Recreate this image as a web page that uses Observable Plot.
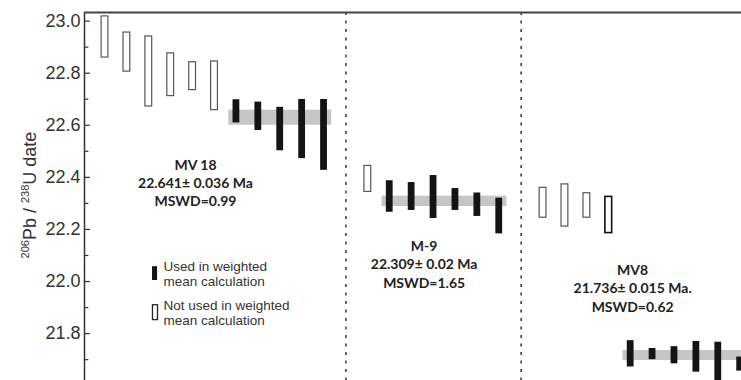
<!DOCTYPE html>
<html>
<head>
<meta charset="utf-8">
<script src="https://cdn.jsdelivr.net/npm/d3@7"></script>
<script src="https://cdn.jsdelivr.net/npm/@observablehq/plot@0.6"></script>
<style>
  html, body { margin: 0; padding: 0; background: #ffffff; }
  #chart svg { display: block; }
</style>
</head>
<body>
<div id="chart"></div>
<script>
// ---------- data ----------
const samples   = ["MV 18", "M-9", "MV8"];
const ageText   = ["22.641\u00b1 0.036 Ma", "22.309\u00b1 0.02 Ma", "21.736\u00b1 0.015 Ma."];
const mswdText  = ["MSWD=0.99", "MSWD=1.65", "MSWD=0.62"];
const bandLow   = [22.600, 22.288, 21.697];
const bandHigh  = [22.658, 22.328, 21.735];

// analysis slot (along the x axis), sample, age interval (2σ) and whether used
const slot      = [0, 1, 2, 3, 4, 5, 6, 7, 8, 9, 10,
                   12, 13, 14, 15, 16, 17, 18,
                   20, 21, 22, 23, 24, 25, 26, 27, 28, 29];
const sampleOf  = [0, 0, 0, 0, 0, 0, 0, 0, 0, 0, 0,
                   1, 1, 1, 1, 1, 1, 1,
                   2, 2, 2, 2, 2, 2, 2, 2, 2, 2];
const ageHigh   = [23.018, 22.956, 22.941, 22.876, 22.842, 22.845, 22.698, 22.689, 22.669, 22.699, 22.699,
                   22.444, 22.387, 22.380, 22.407, 22.357, 22.340, 22.320,
                   22.360, 22.373, 22.339, 22.325, 21.773, 21.743, 21.750, 21.770, 21.767, 21.710];
const ageLow    = [22.860, 22.806, 22.672, 22.712, 22.735, 22.658, 22.609, 22.580, 22.502, 22.472, 22.427,
                   22.344, 22.266, 22.273, 22.242, 22.273, 22.250, 22.183,
                   22.245, 22.211, 22.245, 22.186, 21.672, 21.700, 21.684, 21.652, 21.580, 21.656];
const used      = [false, false, false, false, false, false, true, true, true, true, true,
                   false, true, true, true, true, true, true,
                   false, false, false, false, true, true, true, true, true, true];
const dividers  = [11, 19];
const majorTicks = [21.8, 22.0, 22.2, 22.4, 22.6, 22.8, 23.0];
const minorTicks = [21.7, 21.9, 22.1, 22.3, 22.5, 22.7, 22.9];
const legendLabels = ["Used in weighted\nmean calculation", "Not used in weighted\nmean calculation"];

// ---------- derived tables ----------
const analyses = slot.map((s, i) => ({
  pos: s, sample: sampleOf[i], hi: ageHigh[i], lo: ageLow[i], used: used[i],
  last: i === 21
}));
const bands = samples.map((name, k) => {
  const u = analyses.filter(a => a.sample === k && a.used).map(a => a.pos);
  return {name, lo: bandLow[k], hi: bandHigh[k], x1: d3.min(u) - 0.35, x2: d3.max(u) + 0.35};
});
const labels = samples.map((name, k) => ({text: `${name}\n${ageText[k]}\n${mswdText[k]}`, k}));
const labelAnchor = [[4.13, 22.381], [14.57, 22.069], [24.09, 21.977]];

const xDomain = [-0.936, 29.06];
const yDomain = [21.62, 23.033];
const hw = 0.155; // half width of a bar in slot units

const chart = Plot.plot({
  width: 741,
  height: 380,
  marginLeft: 84,
  marginRight: 0,
  marginTop: 12,
  marginBottom: 0,
  style: {background: "#ffffff", overflow: "visible"},
  x: {domain: xDomain, axis: null},
  y: {domain: yDomain, axis: null},
  marks: [
    // weighted mean bands
    Plot.rect(bands, {x1: "x1", x2: "x2", y1: "lo", y2: "hi", fill: "#c6c6c6", clip: true}),
    // analyses
    Plot.rect(analyses.filter(d => !d.used), {
      x1: d => d.pos - hw, x2: d => d.pos + hw, y1: "lo", y2: "hi",
      fill: "#ffffff", stroke: d => d.last ? "#111111" : "#555555",
      strokeWidth: d => d.last ? 1.6 : 1.2, clip: true
    }),
    Plot.rect(analyses.filter(d => d.used), {
      x1: d => d.pos - hw, x2: d => d.pos + hw, y1: "lo", y2: "hi",
      fill: "#141414", clip: true
    }),
    // sample dividers
    Plot.ruleX(dividers, {x: d => d, stroke: "#333", strokeWidth: 1.5, strokeDasharray: "3,5.5"}),
    // frame: left axis + top line
    Plot.ruleX([xDomain[0]], {x: d => d, stroke: "#333", strokeWidth: 1.5}),
    Plot.ruleY([yDomain[1]], {y: d => d, stroke: "#444", strokeWidth: 2}),
    // inward ticks
    Plot.ruleY(majorTicks, {y: d => d, x1: xDomain[0], x2: xDomain[0] + 0.27, stroke: "#333", strokeWidth: 1.2}),
    Plot.ruleY(minorTicks, {y: d => d, x1: xDomain[0], x2: xDomain[0] + 0.2, stroke: "#333", strokeWidth: 1.2}),
    // tick labels
    Plot.axisY(majorTicks, {anchor: "left", tickSize: 0, tickPadding: 4, tickFormat: d3.format(".1f"),
      fontSize: 18, fill: "#333"}),
    // sample annotations
    Plot.text(labels, {
      x: d => labelAnchor[d.k][0], y: d => labelAnchor[d.k][1], text: "text",
      lineHeight: 1.3, fontSize: 14, fontWeight: "bold", fill: "#222",
      fontFamily: "Lato, 'Open Sans', sans-serif"
    }),
    // legend
    Plot.rect([0], {x1: 2.17, x2: 2.40, y1: 22.004, y2: 22.057, fill: "#141414"}),
    Plot.rect([0], {x1: 2.19, x2: 2.42, y1: 21.852, y2: 21.909, fill: "#fff", stroke: "#222", strokeWidth: 1.3}),
    Plot.text(legendLabels, {
      x: () => 2.67, y: (d, i) => [22.031, 21.881][i], text: d => d,
      textAnchor: "start", fontSize: 13.5, lineHeight: 1.12, fill: "#333",
      fontFamily: "'Liberation Sans', Arial, sans-serif"
    })
  ]
});

chart.setAttribute("font-family", "'Liberation Sans', Arial, sans-serif");
document.getElementById("chart").appendChild(chart);

// y-axis title with superscript isotope masses
const title = d3.select(chart).append("text")
  .attr("transform", "translate(36,195) rotate(-90)")
  .attr("text-anchor", "middle")
  .attr("font-size", 18)
  .attr("fill", "#333")
  .attr("font-family", "'Liberation Sans', Arial, sans-serif");
title.append("tspan").attr("font-size", 11).attr("dy", -7).text("206");
title.append("tspan").attr("dy", 7).text("Pb / ");
title.append("tspan").attr("font-size", 11).attr("dy", -7).text("238");
title.append("tspan").attr("dy", 7).text("U date");
</script>
</body>
</html>
